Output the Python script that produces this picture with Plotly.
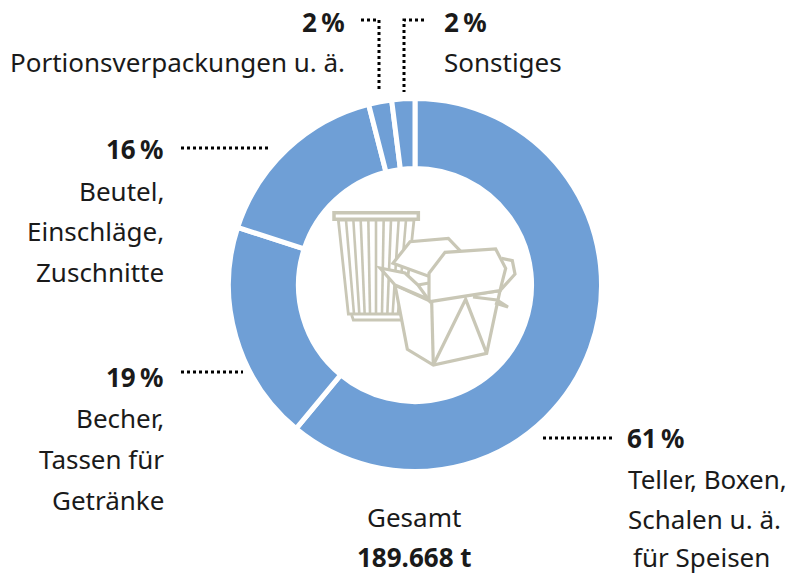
import plotly.graph_objects as go

categories = ["Teller, Boxen, Schalen u. ä. für Speisen", "Becher, Tassen für Getränke",
              "Beutel, Einschläge, Zuschnitte", "Portionsverpackungen u. ä.", "Sonstiges"]
values = [61, 19, 16, 2, 2]
total_label = "189.668 t"

W, H = 794, 575
BLUE = "#6f9fd6"
BEIGE = "#c9c7b6"
FONT = "Noto Sans"
SIZE = 26
INK = "#1a1a1a"

def px(x): return x / W
def py(y): return 1 - y / H

fig = go.Figure(go.Pie(
    labels=categories, values=values, sort=False, direction="clockwise", rotation=0,
    hole=0.625, textinfo="none", hoverinfo="label+percent", showlegend=False,
    marker=dict(colors=[BLUE] * len(values), line=dict(color="white", width=5)),
    domain=dict(x=[px(228.5), px(601.5)], y=[py(471.5), py(98.5)]),
))

annotations = []
def text(x, y, s, anchor="left", bold=False):
    annotations.append(dict(
        x=px(x), y=py(y), xref="paper", yref="paper", text=f"<b>{s}</b>" if bold else s,
        showarrow=False, xanchor=anchor, yanchor="middle", align=anchor,
        font=dict(family=FONT, size=SIZE, color=INK), borderpad=0, borderwidth=0))

pct = [f"{v}\u202f%" for v in values]
text(627, 438, pct[0], bold=True)
text(628, 479, "Teller, Boxen,")
text(628, 519, "Schalen u. ä.")
text(633, 557, "für Speisen")
text(164, 377, pct[1], "right", True)
text(164, 418, "Becher,", "right")
text(164, 459, "Tassen für", "right")
text(164, 500, "Getränke", "right")
text(164, 149, pct[2], "right", True)
text(164, 191, "Beutel,", "right")
text(164, 231, "Einschläge,", "right")
text(164, 272, "Zuschnitte", "right")
text(345, 22, pct[3], "right", True)
text(345, 62, categories[3], "right")
text(444, 22, pct[4], "left", True)
text(444, 62, categories[4], "left")
text(414, 517, "Gesamt", "center")
text(414, 557, total_label, "center", True)

shapes = []
def leader(pts):
    d = "M" + " L".join(f"{px(x)},{py(y)}" for x, y in pts)
    shapes.append(dict(type="path", path=d, xref="paper", yref="paper",
                       line=dict(color="#000000", width=3, dash="3px,3px")))
leader([(543, 438), (615, 438)])
leader([(181, 372), (243, 372)])
leader([(181, 148), (270, 148)])
leader([(361, 20), (379, 20), (379, 92)])
leader([(424, 20), (404, 20), (404, 92)])

def icon(pts, fill=None, close=False, width=3.2):
    P = [(320 + x / 3, 200 + y / 3) for x, y in pts]
    d = "M" + " L".join(f"{px(x)},{py(y)}" for x, y in P) + (" Z" if close else "")
    shapes.append(dict(type="path", path=d, xref="paper", yref="paper",
                       fillcolor=fill if fill else "rgba(0,0,0,0)",
                       line=dict(color=BEIGE, width=width)))

# paper cup
icon([(55, 60), (85, 342), (252, 342), (282, 60)], "white", True, 2.8)
icon([(95, 345), (100, 360), (245, 360)], None, False, 2.8)
tops = [78, 100, 122, 145, 168, 191, 213, 236, 258]
bots = [102, 118, 134, 150, 168, 186, 202, 218, 234]
for t, b in zip(tops, bots):
    icon([(t, 60), (b, 342)], None, False, 2.6)
icon([(42, 38), (295, 38), (295, 58), (42, 58)], "white", True, 3.5)
# take-away box
icon([(219, 190), (270, 125), (385, 115), (418, 150), (330, 230)], "white", True)
icon([(225, 255), (262, 448), (340, 495), (500, 460), (540, 272), (327, 302)], "white", True)
icon([(335, 305), (340, 495)])
icon([(340, 495), (437, 298), (500, 460)])
icon([(459, 291), (531, 300), (564, 321), (525, 309)])
icon([(180, 204), (255, 219), (294, 255), (325, 298), (225, 255)], "white", True)
icon([(294, 255), (327, 249)])
icon([(327, 300), (327, 220), (375, 157), (527, 147), (557, 205), (540, 272), (330, 305)], "white", True)
icon([(545, 175), (577, 182), (585, 222), (540, 272)])

fig.update_layout(width=W, height=H, margin=dict(l=0, r=0, t=0, b=0), paper_bgcolor="white",
                  plot_bgcolor="white", annotations=annotations, shapes=shapes)
fig.write_html("out.html", config=dict(displayModeBar=False),
               post_script="document.body.style.margin='0';")
